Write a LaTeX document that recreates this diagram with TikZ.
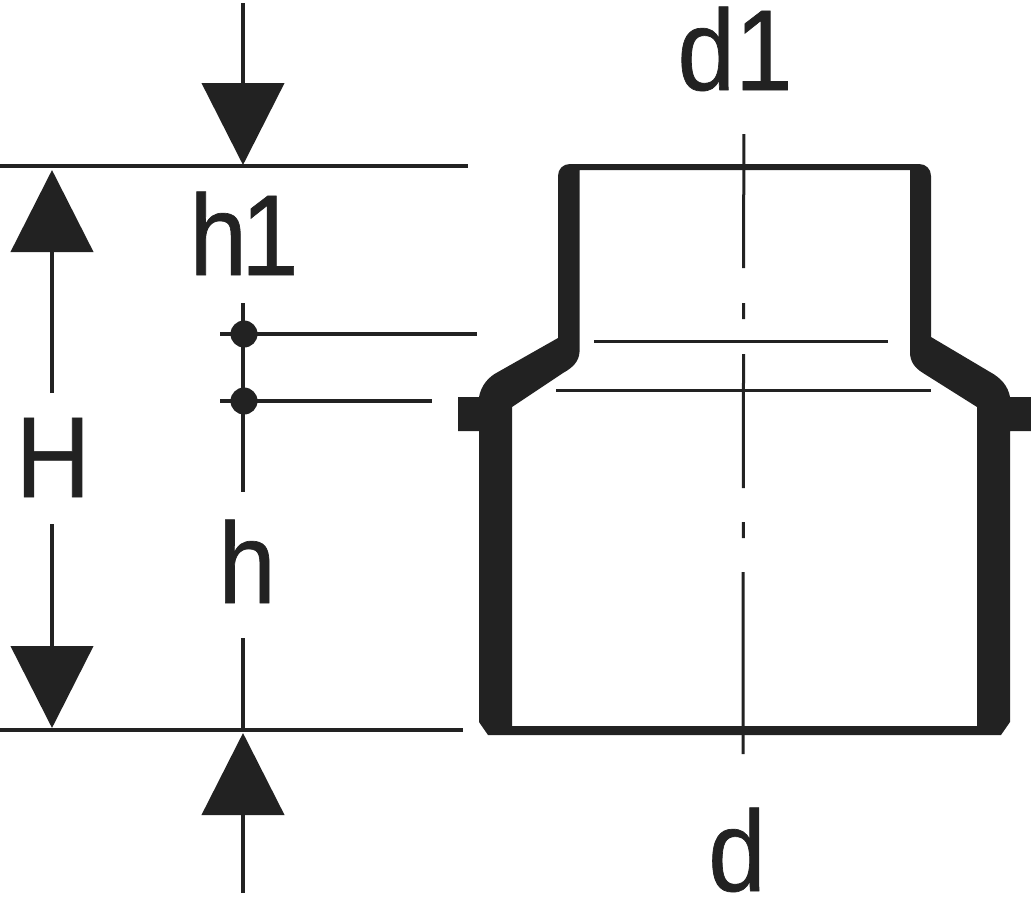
\documentclass[tikz,border=0pt]{standalone}
\usepackage{fontspec}
\newfontfamily\dimfont[FakeStretch=0.9,FakeBold=0.6]{Liberation Sans}
\usetikzlibrary{arrows.meta}
\definecolor{ink}{HTML}{222222}
\tikzset{
  dimline/.style={draw=ink,line width=4.4pt},
  thinline/.style={draw=ink,line width=3pt},
  dimarrow/.style={draw=ink,line width=4.4pt,-{Triangle[length=82pt,width=82pt,color=ink]}},
  label/.style={text=ink,font=\dimfont\fontsize{115}{115}\selectfont,inner sep=0pt,anchor=base},
  dot/.style={circle,fill=ink,inner sep=0pt,minimum size=27pt},
}
\begin{document}
\begin{tikzpicture}[x=1pt,y=-1pt]
\useasboundingbox (0,0) rectangle (1031,900);
    % extension lines
    \coordinate (T0) at (0,166);
    \coordinate (T1) at (468,166);
    \coordinate (B0) at (0,730);
    \coordinate (B1) at (463,730);
    \draw [dimline] (T0) -- (T1);
    \draw [dimline] (B0) -- (B1);

    % h and h1
    \coordinate (a) at (243,3);
    \coordinate (b) at (243,165);
    \coordinate (c) at (243,893);
    \coordinate (d) at (243,733);
    \draw [dimarrow] (a) -- (b);
    \draw [dimarrow] (c) -- (d);
    \node [label] (h1) at (244,275) {h\kern-6pt 1};
    \node [label] (h) at (247,603) {h};
    \coordinate (e) at (243,303);
    \coordinate (f) at (243,492);
    \coordinate (g) at (243,638);
    \coordinate (i) at (243,730);
    \draw [dimline] (e) -- (f);
    \draw [dimline] (g) -- (i);

    % socket marks
    \node [dot] (P) at (244,334) {};
    \node [dot] (Q) at (244,401) {};
    \coordinate (P0) at (220,334);
    \coordinate (P1) at (477,334);
    \coordinate (Q0) at (220,401);
    \coordinate (Q1) at (432,401);
    \draw [dimline] (P0) -- (P1);
    \draw [dimline] (Q0) -- (Q1);

    % H
    \node [label] (H) at (53,497) {H};
    \coordinate (H0) at (52,393);
    \coordinate (H1) at (52,170);
    \coordinate (H2) at (52,524);
    \coordinate (H3) at (52,728);
    \draw [dimarrow] (H0) -- (H1);
    \draw [dimarrow] (H2) -- (H3);

    % fitting
    \fill [ink] (570,164) -- (919,164) .. controls (926,164) and (931,169) .. (931,176)
        -- (931,337) -- (990,372) .. controls (1001,378) and (1008,386) .. (1010,397)
        -- (1031,397) -- (1031,431) -- (1010,431) -- (1010,722) -- (1001,735) -- (488,735)
        -- (479,722) -- (479,431) -- (458,431) -- (458,397) -- (479,397)
        .. controls (481,386) and (488,377) .. (498,372) -- (558,338) -- (558,176)
        .. controls (558,169) and (563,164) .. (570,164) -- cycle
        (579.5,170) -- (579.5,352) .. controls (579,362) and (572,368) .. (563,373)
        -- (512,407) -- (512,726) -- (977,726) -- (977,407) -- (923,373)
        .. controls (915,368) and (910,362) .. (910,352) -- (910,170) -- cycle;
    \coordinate (L0) at (594,341);
    \coordinate (L1) at (888,341);
    \coordinate (M0) at (556,390);
    \coordinate (M1) at (931,390);
    \draw [thinline] (L0) -- (L1);
    \draw [thinline] (M0) -- (M1);

    % centre line
    \foreach \ya/\yb [count=\n] in {134/268,303/319,354/488,522/538,572/754}
        \draw [thinline] (744-\ya/754,\ya) coordinate (s\n) -- (744-\yb/754,\yb) coordinate (e\n);

    \node [label] (d1) at (735,90) {d1};
    \node [label] (dd) at (737,891) {d};
\end{tikzpicture}
\end{document}
